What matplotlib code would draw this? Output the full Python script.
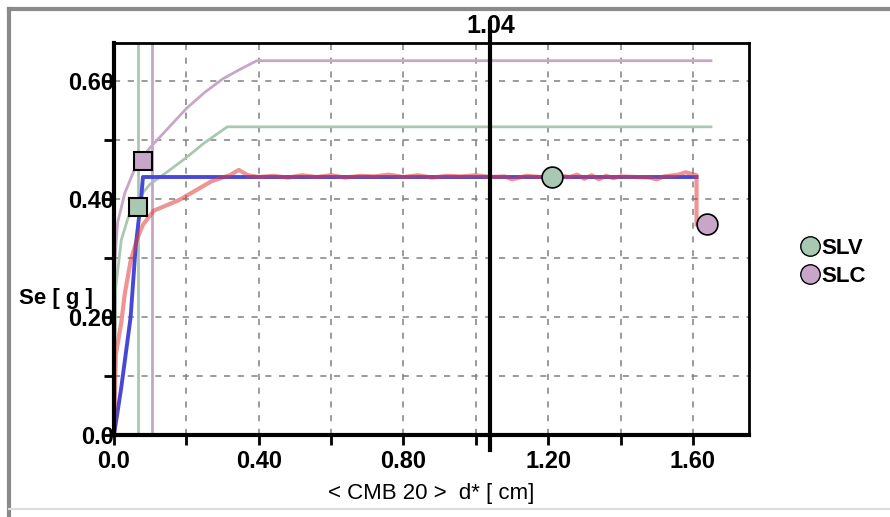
import numpy as np
import matplotlib
matplotlib.use("Agg")
import matplotlib.pyplot as plt
from matplotlib.lines import Line2D

# capacity envelopes (SLV / SLC)
slc_x = [0.0, 0.003, 0.01, 0.03, 0.06, 0.10, 0.15, 0.20, 0.25, 0.30, 0.35, 0.395, 1.65]
slc_y = [0.0, 0.30, 0.36, 0.41, 0.455, 0.487, 0.52, 0.553, 0.58, 0.603, 0.62, 0.634, 0.634]
slv_x = [0.0, 0.005, 0.02, 0.04, 0.065, 0.10, 0.15, 0.20, 0.25, 0.313, 1.65]
slv_y = [0.0, 0.25, 0.33, 0.37, 0.40, 0.425, 0.447, 0.47, 0.495, 0.522, 0.522]

# bilinear curve
bil_x = [0.0, 0.02, 0.046, 0.06, 0.075, 0.08, 0.40, 0.80, 1.20, 1.61]
bil_y = [0.0, 0.08, 0.20, 0.32, 0.40, 0.437, 0.437, 0.437, 0.437, 0.437]

# pushover curve
push_x = [0.0, 0.005, 0.02, 0.03, 0.046, 0.065, 0.08, 0.11, 0.18, 0.27, 0.32, 0.345, 0.37,
          0.40, 0.44, 0.48, 0.52, 0.56, 0.60, 0.64, 0.68, 0.72, 0.76, 0.80, 0.84, 0.88,
          0.92, 0.96, 1.00, 1.04, 1.08, 1.10, 1.12, 1.14, 1.18, 1.22, 1.26, 1.28, 1.30,
          1.32, 1.34, 1.36, 1.38, 1.40, 1.44, 1.48, 1.50, 1.52, 1.56, 1.58, 1.61, 1.61]
push_y = [0.0, 0.136, 0.19, 0.24, 0.295, 0.334, 0.356, 0.38, 0.398, 0.43, 0.44, 0.449, 0.44,
          0.437, 0.439, 0.436, 0.440, 0.437, 0.440, 0.436, 0.439, 0.438, 0.441, 0.437, 0.440,
          0.436, 0.439, 0.438, 0.440, 0.437, 0.438, 0.433, 0.436, 0.439, 0.437, 0.440, 0.437,
          0.441, 0.434, 0.440, 0.433, 0.439, 0.435, 0.438, 0.437, 0.436, 0.433, 0.438, 0.441,
          0.445, 0.440, 0.357]

# markers
sq_x = [0.066, 0.08]
sq_y = [0.386, 0.464]
pt_slv = (1.21, 0.437)
pt_slc = (1.64, 0.357)
v_slv = 0.065
v_slc = 0.105
d_star = 1.04

c_slv = "#a9c8b2"
c_slc = "#c8a6c8"

plt.rcParams["font.family"] = ["Liberation Sans", "DejaVu Sans"]

fig = plt.figure(figsize=(8.9, 5.17), dpi=100)
ax = fig.add_axes([114 / 890, 1 - 435 / 517, (749 - 114) / 890, (435 - 43) / 517])

# outer frame
fig.add_artist(Line2D([9 / 890, 9 / 890], [0, 1 - 9 / 517], transform=fig.transFigure, color="#8a8a8a", lw=3))
fig.add_artist(Line2D([9 / 890, 1], [1 - 9 / 517, 1 - 9 / 517], transform=fig.transFigure, color="#8a8a8a", lw=3))
fig.add_artist(Line2D([9 / 890, 1], [1 - 509 / 517, 1 - 509 / 517], transform=fig.transFigure, color="#dddddd", lw=1.5))

ax.set_xlim(0, 1.755)
ax.set_ylim(0, 0.664)

ax.plot(slc_x, slc_y, color=c_slc, lw=2)
ax.plot(slv_x, slv_y, color=c_slv, lw=2)
ax.axvline(v_slv, color=c_slv, lw=2)
ax.axvline(v_slc, color=c_slc, lw=2)
ax.plot(bil_x, bil_y, color="#4848d8", lw=2.8)
ax.plot(push_x, push_y, color="#e03c3c", lw=3, alpha=0.55)

ax.plot(sq_x[0], sq_y[0], marker="s", ms=13, mfc=c_slv, mec="black", mew=1.5, ls="none")
ax.plot(sq_x[1], sq_y[1], marker="s", ms=13, mfc=c_slc, mec="black", mew=1.5, ls="none")
ax.plot(*pt_slv, marker="o", ms=15, mfc=c_slv, mec="black", mew=1.2, ls="none")
ax.plot(*pt_slc, marker="o", ms=15, mfc=c_slc, mec="black", mew=1.2, ls="none")

ax.plot([d_star, d_star], [-0.025, 0.70], color="black", lw=3, clip_on=False)
ax.text(d_star, 0.672, "1.04", ha="center", va="bottom", fontsize=18, fontweight="bold")

xt = [0.0, 0.2, 0.4, 0.6, 0.8, 1.0, 1.2, 1.4, 1.6]
xl = ["0.0", "", "0.40", "", "0.80", "", "1.20", "", "1.60"]
yt = [0.0, 0.1, 0.2, 0.3, 0.4, 0.5, 0.6]
yl = ["0.0", "", "0.20", "", "0.40", "", "0.60"]
ax.set_xticks(xt, xl)
ax.set_yticks(yt, yl)
ax.tick_params(axis="x", length=7, width=2, pad=4, labelsize=17)
ax.tick_params(axis="y", length=7, width=2, pad=-7, labelsize=17)
for lab in ax.get_xticklabels() + ax.get_yticklabels():
    lab.set_fontweight("bold")

ax.grid(True, color="#808080", ls=(0, (4, 5)), lw=1.1)
for s in ["left", "bottom"]:
    ax.spines[s].set_linewidth(3)
for s in ["top", "right"]:
    ax.spines[s].set_linewidth(2)

ax.set_xlabel("< CMB 20 >  d* [ cm]", fontsize=16, labelpad=7)
ax.text(-0.262, 0.232, "Se [ g ]", fontsize=16, fontweight="bold", ha="left", va="center")

handles = [Line2D([], [], marker="o", ls="none", ms=14, mfc=c_slv, mec="black", mew=1),
           Line2D([], [], marker="o", ls="none", ms=14, mfc=c_slc, mec="black", mew=1)]
leg = ax.legend(handles, ["SLV", "SLC"], loc="center left", bbox_to_anchor=(1.065, 0.44),
                frameon=False, handletextpad=0.0, labelspacing=0.3, prop={"size": 16, "weight": "bold"},
                borderaxespad=0, handlelength=1.0)

fig.savefig("out.png", dpi=100)
